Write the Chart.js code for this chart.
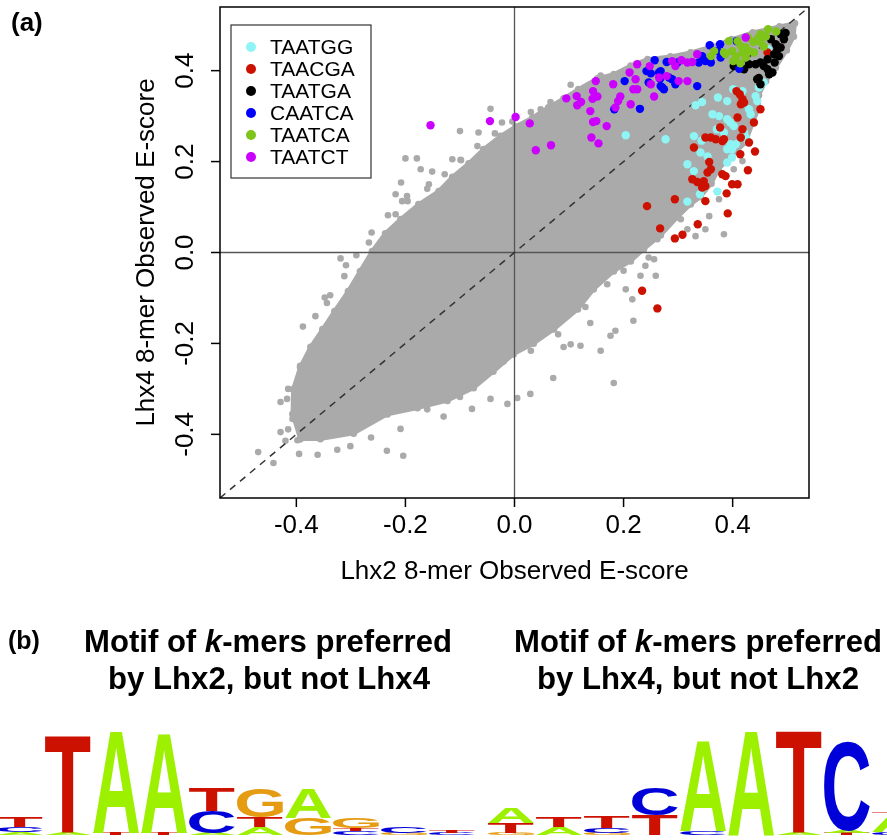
<!DOCTYPE html>
<html>
<head>
<meta charset="utf-8">
<script src="https://cdn.jsdelivr.net/npm/chart.js@4/dist/chart.umd.min.js"></script>
<style>
  body { margin: 0; background: #fff; }
  canvas { display: block; background: #fff; }
</style>
</head>
<body>
<canvas id="scatter" width="887" height="840"></canvas>
<script>
// axis setup
const axisRange = [-0.54, 0.54];
const xTicks = [-0.4, -0.2, 0, 0.2, 0.4];
const yTicks = [-0.4, -0.2, 0, 0.2, 0.4];
const tickLabels = ['-0.4', '-0.2', '0.0', '0.2', '0.4'];
const xTitle = 'Lhx2 8-mer Observed E-score';
const yTitle = 'Lhx4 8-mer Observed E-score';

// legend categories (same order as the R legend)
const kmerNames = ['TAATGG', 'TAACGA', 'TAATGA', 'CAATCA', 'TAATCA', 'TAATCT'];
const kmerColors = ['#8ef4f4', '#cc1100', '#000000', '#0000ff', '#7ec41a', '#cc00ff'];

// outline of the dense grey cloud (all other 8-mers)
const cloudOutline = [
  [-0.393, -0.410], [-0.407, -0.355], [-0.406, -0.301], [-0.393, -0.252], [-0.374, -0.208],
  [-0.352, -0.169], [-0.330, -0.129], [-0.305, -0.085], [-0.283, -0.041], [-0.261, 0.003],
  [-0.237, 0.042], [-0.209, 0.073], [-0.176, 0.106], [-0.139, 0.135], [-0.114, 0.166],
  [-0.084, 0.196], [-0.057, 0.227], [-0.026, 0.256], [0.002, 0.277], [0.033, 0.297],
  [0.062, 0.319], [0.090, 0.339], [0.117, 0.359], [0.152, 0.383], [0.182, 0.392],
  [0.213, 0.411], [0.244, 0.425], [0.286, 0.431], [0.323, 0.440], [0.361, 0.453],
  [0.398, 0.469], [0.437, 0.484], [0.486, 0.497], [0.514, 0.504], [0.512, 0.475],
  [0.499, 0.445], [0.479, 0.407], [0.461, 0.377], [0.448, 0.346], [0.448, 0.317],
  [0.437, 0.286], [0.424, 0.242], [0.398, 0.212], [0.374, 0.183], [0.361, 0.152],
  [0.341, 0.122], [0.323, 0.106], [0.299, 0.078], [0.268, 0.038], [0.237, 0.007],
  [0.213, -0.019], [0.182, -0.041], [0.145, -0.081], [0.116, -0.125], [0.072, -0.169],
  [0.035, -0.200], [-0.002, -0.224], [-0.039, -0.262], [-0.075, -0.298], [-0.123, -0.326],
  [-0.178, -0.342], [-0.233, -0.356], [-0.295, -0.398], [-0.356, -0.410], [-0.393, -0.410]
];

// scattered grey 8-mers around the dense cloud
const otherKmers = [
  [-0.470, -0.439], [-0.442, -0.463], [-0.395, -0.443], [-0.361, -0.445], [-0.325, -0.434],
  [-0.301, -0.426], [-0.263, -0.407], [-0.234, -0.436], [-0.204, -0.447], [-0.429, -0.395],
  [-0.420, -0.414], [-0.415, -0.389], [-0.398, -0.413], [-0.407, -0.366], [-0.429, -0.329],
  [-0.415, -0.300], [-0.396, -0.293], [-0.393, -0.249], [-0.417, -0.322], [-0.209, -0.388],
  [-0.130, -0.361], [-0.078, -0.344], [-0.044, -0.322], [-0.013, -0.333], [0.005, -0.320],
  [0.029, -0.311], [0.071, -0.276], [0.090, -0.208], [0.103, -0.202], [0.121, -0.205],
  [0.139, -0.155], [0.158, -0.216], [0.176, -0.183], [0.185, -0.172], [0.182, -0.287],
  [0.216, -0.103], [0.218, -0.150], [0.231, -0.051], [0.204, -0.081], [0.262, 0.029],
  [0.332, 0.036], [0.305, 0.073], [0.317, 0.051], [0.350, 0.051], [0.384, 0.040],
  [0.375, 0.117], [0.357, 0.080], [0.402, 0.183], [0.418, 0.201], [0.246, -0.011],
  [0.256, -0.015], [0.259, -0.051], [0.240, -0.029], [-0.267, 0.022], [-0.319, -0.013],
  [-0.309, -0.028], [-0.348, -0.099], [-0.344, -0.111], [-0.388, -0.163], [-0.200, 0.207],
  [-0.179, 0.207], [-0.208, 0.154], [-0.172, 0.183], [-0.151, 0.178], [-0.157, 0.150],
  [-0.218, 0.128], [-0.197, 0.124], [-0.114, 0.205], [-0.099, 0.204], [-0.100, 0.267],
  [-0.066, 0.264], [-0.044, 0.316], [-0.023, 0.286], [0.048, 0.315], [0.103, 0.369],
  [0.158, 0.389], [-0.218, 0.084], [-0.191, 0.084], [-0.206, 0.113],
  [-0.365, -0.140], [-0.338, -0.094], [-0.312, -0.052], [-0.290, -0.006], [-0.262, 0.044],
  [-0.232, 0.082], [-0.196, 0.113], [-0.160, 0.140], [-0.128, 0.172], [-0.098, 0.203],
  [-0.068, 0.234], [-0.036, 0.262], [-0.004, 0.288], [0.030, 0.309], [0.066, 0.331],
  [-0.020, -0.240], [0.030, -0.216], [0.080, -0.180], [-0.100, -0.318], [-0.160, -0.345],
  [0.130, -0.120], [0.170, -0.070], [0.200, -0.040]
];

const taatgg = [
  [0.204, 0.258], [0.277, 0.249], [0.465, 0.447], [0.457, 0.374], [0.448, 0.363], [0.401, 0.359],
  [0.418, 0.355], [0.442, 0.344], [0.445, 0.333], [0.373, 0.341], [0.344, 0.331], [0.332, 0.324],
  [0.390, 0.333], [0.363, 0.304], [0.375, 0.300], [0.430, 0.315], [0.433, 0.304], [0.390, 0.293],
  [0.396, 0.286], [0.402, 0.278], [0.421, 0.264], [0.424, 0.253], [0.428, 0.245], [0.371, 0.271],
  [0.384, 0.264], [0.329, 0.256], [0.396, 0.238], [0.390, 0.227], [0.399, 0.227], [0.341, 0.220],
  [0.354, 0.211], [0.317, 0.194], [0.329, 0.179], [0.390, 0.198], [0.399, 0.209], [0.406, 0.238],
  [0.372, 0.134], [0.340, 0.128], [0.317, 0.112], [0.343, 0.246]
];
const taacga = [
  [0.464, 0.440], [0.407, 0.355], [0.413, 0.348], [0.418, 0.337], [0.421, 0.330], [0.415, 0.326],
  [0.451, 0.315], [0.409, 0.297], [0.439, 0.286], [0.377, 0.275], [0.360, 0.253], [0.350, 0.253],
  [0.418, 0.271], [0.415, 0.253], [0.369, 0.249], [0.384, 0.249], [0.329, 0.231], [0.430, 0.242],
  [0.381, 0.245], [0.414, 0.216], [0.441, 0.222], [0.357, 0.199], [0.360, 0.183], [0.354, 0.176],
  [0.428, 0.181], [0.381, 0.172], [0.387, 0.168], [0.326, 0.161], [0.335, 0.155], [0.347, 0.157],
  [0.350, 0.146], [0.344, 0.143], [0.399, 0.150], [0.409, 0.150], [0.389, 0.130], [0.350, 0.113],
  [0.294, 0.117], [0.243, 0.102], [0.391, 0.086], [0.336, 0.062], [0.267, 0.053], [0.308, 0.039],
  [0.294, 0.031], [0.234, -0.084], [0.262, -0.123]
];
const taatga = [
  [0.470, 0.469], [0.479, 0.458], [0.488, 0.480], [0.497, 0.483], [0.494, 0.469], [0.482, 0.447],
  [0.476, 0.436], [0.485, 0.432], [0.464, 0.425], [0.451, 0.418], [0.457, 0.410], [0.442, 0.414],
  [0.430, 0.414], [0.445, 0.381], [0.451, 0.370], [0.464, 0.403], [0.473, 0.396], [0.467, 0.392],
  [0.402, 0.410], [0.421, 0.403], [0.488, 0.451], [0.477, 0.418], [0.448, 0.384]
];
const caatca = [
  [0.183, 0.315], [0.202, 0.377], [0.230, 0.316], [0.242, 0.399], [0.250, 0.394], [0.246, 0.374],
  [0.257, 0.423], [0.265, 0.396], [0.267, 0.382], [0.268, 0.366], [0.274, 0.359], [0.279, 0.419],
  [0.289, 0.381], [0.268, 0.399], [0.283, 0.385], [0.271, 0.363], [0.335, 0.366], [0.299, 0.418],
  [0.338, 0.418], [0.344, 0.432], [0.350, 0.421], [0.360, 0.418], [0.358, 0.456], [0.377, 0.458],
  [0.372, 0.443], [0.378, 0.429], [0.407, 0.465], [0.412, 0.404], [0.295, 0.370]
];
const taatca = [
  [0.465, 0.491], [0.451, 0.480], [0.480, 0.486], [0.428, 0.473], [0.393, 0.465], [0.409, 0.465],
  [0.438, 0.463], [0.451, 0.463], [0.415, 0.454], [0.424, 0.451], [0.399, 0.443], [0.384, 0.440],
  [0.366, 0.443], [0.418, 0.440], [0.431, 0.443], [0.360, 0.432], [0.406, 0.431], [0.424, 0.429],
  [0.439, 0.440], [0.401, 0.421], [0.387, 0.436], [0.457, 0.453], [0.461, 0.475], [0.446, 0.470],
  [0.414, 0.416]
];
const taatct = [
  [-0.154, 0.280], [-0.045, 0.289], [0.002, 0.298], [0.028, 0.284], [0.039, 0.225], [0.067, 0.236],
  [0.095, 0.339], [0.114, 0.344], [0.122, 0.331], [0.115, 0.324], [0.139, 0.311], [0.143, 0.338],
  [0.152, 0.343], [0.144, 0.355], [0.149, 0.377], [0.144, 0.287], [0.150, 0.289], [0.169, 0.278],
  [0.141, 0.253], [0.154, 0.240], [0.181, 0.370], [0.194, 0.343], [0.190, 0.333], [0.185, 0.319],
  [0.213, 0.326], [0.211, 0.396], [0.225, 0.414], [0.222, 0.381], [0.225, 0.359], [0.218, 0.359],
  [0.256, 0.343], [0.248, 0.410], [0.279, 0.388], [0.289, 0.421], [0.306, 0.423], [0.317, 0.418],
  [0.326, 0.419], [0.301, 0.377], [0.317, 0.377], [0.335, 0.436], [0.424, 0.473], [0.250, 0.370],
  [0.265, 0.385], [0.295, 0.410]
];
const kmerSeries = [taatgg, taacga, taatga, caatca, taatca, taatct];

// sequence logos of panel (b): each column is a stack, bottom -> top, [base, bits]
const logoLhx2 = [
  [['A', 0.06], ['C', 0.1], ['T', 0.2]],
  [['A', 0.06], ['T', 1.94]],
  [['T', 0.04], ['A', 2.04]],
  [['T', 0.04], ['A', 2.0]],
  [['A', 0.04], ['C', 0.44], ['T', 0.46]],
  [['A', 0.16], ['T', 0.2], ['G', 0.58]],
  [['G', 0.34], ['A', 0.6]],
  [['C', 0.08], ['T', 0.06], ['G', 0.2]],
  [['G', 0.04], ['C', 0.12]],
  [['C', 0.04], ['T', 0.06]]
];
const logoLhx4 = [
  [['G', 0.04], ['T', 0.2], ['A', 0.3]],
  [['A', 0.16], ['T', 0.2]],
  [['G', 0.04], ['C', 0.1], ['T', 0.24]],
  [['T', 0.4], ['C', 0.54]],
  [['C', 0.08], ['A', 1.82]],
  [['A', 2.1]],
  [['A', 0.04], ['T', 2.06]],
  [['T', 0.04], ['A', 0.04], ['C', 1.78]],
  [['C', 0.06], ['A', 0.34], ['T', 0.04]]
];
const baseColors = { A: '#9cf000', C: '#0000d8', G: '#e59b12', T: '#cc1100' };

const FONT = "'Liberation Sans', Arial, Helvetica, sans-serif";
const toXY = arr => arr.map(p => ({ x: p[0], y: p[1] }));

// draws a stacked logo, 50 px per bit
function drawLogo(ctx, columns, left, baseline, colW) {
    ctx.save();
    ctx.font = 'bold 100px ' + FONT;
    ctx.textAlign = 'left';
    ctx.textBaseline = 'alphabetic';
    columns.forEach((stack, i) => {
        let yb = baseline;
        stack.forEach(([base, bits]) => {
            const h = bits * 50;
            const m = ctx.measureText(base);
            const gw = m.actualBoundingBoxLeft + m.actualBoundingBoxRight;
            const gh = m.actualBoundingBoxAscent + m.actualBoundingBoxDescent;
            ctx.save();
            ctx.translate(left + i * colW + 1, yb);
            ctx.scale((colW - 2) / gw, h / gh);
            ctx.fillStyle = baseColors[base];
            ctx.fillText(base, m.actualBoundingBoxLeft, -m.actualBoundingBoxDescent);
            ctx.restore();
            yb -= h;
        });
    });
    ctx.restore();
}

// bold title text squeezed to a given width, parts = [[text, italic]]
function drawFitted(ctx, parts, cx, baseline, width, size) {
    ctx.save();
    let total = 0;
    parts.forEach(([t, it]) => {
        ctx.font = (it ? 'italic ' : '') + 'bold ' + size + 'px ' + FONT;
        total += ctx.measureText(t).width;
    });
    const sx = width / total;
    ctx.translate(cx - width / 2, baseline);
    ctx.scale(sx, 1);
    ctx.textAlign = 'left';
    ctx.textBaseline = 'alphabetic';
    ctx.fillStyle = '#000';
    let x = 0;
    parts.forEach(([t, it]) => {
        ctx.font = (it ? 'italic ' : '') + 'bold ' + size + 'px ' + FONT;
        ctx.fillText(t, x, 0);
        x += ctx.measureText(t).width;
    });
    ctx.restore();
}

const frame = {
    id: 'frame',
    afterDatasetsDraw(chart) {
        const { ctx, chartArea: a, scales: { x, y } } = chart;
        ctx.save();
        ctx.strokeStyle = '#000';
        ctx.lineWidth = 1.5;
        ctx.strokeRect(a.left, a.top, a.right - a.left, a.bottom - a.top);

        // ticks + labels
        ctx.fillStyle = '#000';
        ctx.font = '26px ' + FONT;
        ctx.textAlign = 'center';
        ctx.textBaseline = 'middle';
        xTicks.forEach((v, i) => {
            const px = x.getPixelForValue(v);
            ctx.beginPath();
            ctx.moveTo(px, a.bottom);
            ctx.lineTo(px, a.bottom + 9);
            ctx.stroke();
            ctx.fillText(tickLabels[i], px, a.bottom + 28);
        });
        yTicks.forEach((v, i) => {
            const py = y.getPixelForValue(v);
            ctx.beginPath();
            ctx.moveTo(a.left, py);
            ctx.lineTo(a.left - 9, py);
            ctx.stroke();
            ctx.save();
            ctx.translate(a.left - 34, py);
            ctx.rotate(-Math.PI / 2);
            ctx.fillText(tickLabels[i], 0, 0);
            ctx.restore();
        });

        // axis titles
        ctx.fillText(xTitle, (a.left + a.right) / 2, a.bottom + 74);
        ctx.save();
        ctx.translate(a.left - 73, (a.top + a.bottom) / 2);
        ctx.rotate(-Math.PI / 2);
        ctx.fillText(yTitle, 0, 0);
        ctx.restore();

        // legend
        const lx = a.left + 11, ly = a.top + 18;
        ctx.fillStyle = '#fff';
        ctx.fillRect(lx, ly, 140, 153);
        ctx.strokeStyle = '#333';
        ctx.lineWidth = 1.2;
        ctx.strokeRect(lx, ly, 140, 153);
        ctx.font = '21px ' + FONT;
        ctx.textAlign = 'left';
        kmerNames.forEach((name, i) => {
            const cy = ly + 22 + i * 22;
            ctx.fillStyle = kmerColors[i];
            ctx.beginPath();
            ctx.arc(lx + 20, cy, 5, 0, Math.PI * 2);
            ctx.fill();
            ctx.fillStyle = '#000';
            ctx.fillText(name, lx + 39, cy + 1);
        });

        // panel letters
        ctx.font = 'bold 26px ' + FONT;
        ctx.fillText('(a)', 11, 24);
        ctx.font = 'bold 25px ' + FONT;
        ctx.fillText('(b)', 8, 642);

        // panel (b) titles
        drawFitted(ctx, [['Motif of ', false], ['k', true], ['-mers preferred', false]], 268, 652, 368, 32);
        drawFitted(ctx, [['by Lhx2, but not Lhx4', false]], 269, 689, 322, 32);
        drawFitted(ctx, [['Motif of ', false], ['k', true], ['-mers preferred', false]], 698, 652, 368, 32);
        drawFitted(ctx, [['by Lhx4, but not Lhx2', false]], 698, 689, 322, 32);

        drawLogo(ctx, logoLhx2, -4, 835, 48);
        drawLogo(ctx, logoLhx4, 487, 835, 48);
        ctx.restore();
    }
};

const pointSets = kmerSeries.map((s, i) => ({
    label: kmerNames[i],
    data: toXY(s),
    backgroundColor: kmerColors[i],
    pointRadius: 4.2,
    borderWidth: 0,
    order: kmerSeries.length - i
}));

new Chart(document.getElementById('scatter'), {
    type: 'scatter',
    data: {
        datasets: [
            ...pointSets,
            {
                label: 'diagonal',
                data: toXY([[axisRange[0], axisRange[0]], [axisRange[1], axisRange[1]]]),
                showLine: true,
                borderColor: '#333',
                borderWidth: 1.5,
                borderDash: [7, 6],
                pointRadius: 0,
                order: 10
            },
            {
                label: 'x zero',
                data: toXY([[0, axisRange[0]], [0, axisRange[1]]]),
                showLine: true,
                borderColor: '#555',
                borderWidth: 1.3,
                pointRadius: 0,
                order: 11
            },
            {
                label: 'y zero',
                data: toXY([[axisRange[0], 0], [axisRange[1], 0]]),
                showLine: true,
                borderColor: '#555',
                borderWidth: 1.3,
                pointRadius: 0,
                order: 12
            },
            {
                label: 'other',
                data: toXY(otherKmers),
                backgroundColor: '#aaaaaa',
                pointRadius: 3.3,
                borderWidth: 0,
                order: 20
            },
            {
                label: 'cloud',
                data: toXY(cloudOutline),
                showLine: true,
                fill: 'shape',
                tension: 0,
                backgroundColor: '#aaaaaa',
                borderColor: '#aaaaaa',
                borderWidth: 4,
                pointBackgroundColor: '#aaaaaa',
                pointRadius: 3.5,
                pointBorderWidth: 0,
                order: 21
            }
        ]
    },
    options: {
        responsive: false,
        animation: false,
        events: [],
        layout: { padding: { left: 220, right: 78, top: 7, bottom: 342 } },
        plugins: {
            legend: { display: false },
            tooltip: { enabled: false }
        },
        scales: {
            x: { type: 'linear', min: axisRange[0], max: axisRange[1], display: false },
            y: { type: 'linear', min: axisRange[0], max: axisRange[1], display: false }
        }
    },
    plugins: [frame]
});
</script>
</body>
</html>
